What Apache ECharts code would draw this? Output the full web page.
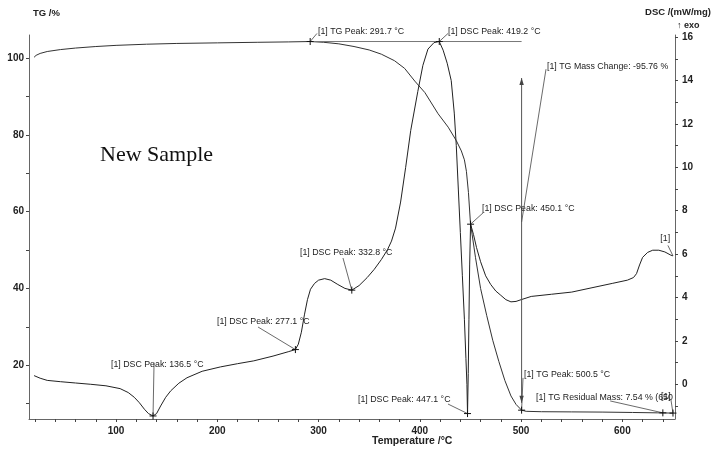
<!DOCTYPE html>
<html><head><meta charset="utf-8">
<script src="https://cdn.jsdelivr.net/npm/echarts@6/dist/echarts.min.js"></script>
<style>html,body{margin:0;padding:0;background:#fff}#c{width:712px;height:450px}</style>
</head><body><div id="c"></div>
<script>
// ---- data ----
const tgTemp = [19,21,25,32,45,60,80,100,130,160,200,240,270,291.7,305,320,335,350,362,375,385,395,405,418,428,436,441,444,446,448,450,455,460,466,472,478,484,490,495,500.5,505,520,550,580,610,635,650];
const tgMass = [100.2,100.7,101.2,101.7,102.2,102.6,103.0,103.3,103.6,103.8,103.95,104.1,104.2,104.3,104.1,103.7,103.0,102.1,101.0,99.3,97.3,94.0,91.0,85.5,82.0,78.5,75.8,73.5,70.5,65,57,48,40,33,26.5,21,16,12,9.8,8.3,8.0,7.9,7.85,7.8,7.7,7.6,7.54];
const dscTemp = [19,25,32,45,60,75,90,104,112,118,123,128,132,136.5,140,144,149,154,162,170,185,203,220,236,255,270,277.1,280,283,286,289,292,296,300,306,312,319,326,332.8,340,348,355,362,368,372,376,381,386,391,398,403,408,414,419.2,423,427,431,434,436,438,440,442,444,445.5,446.5,447.1,447.8,448.5,449.2,450.1,453,456,460,465,470,475,480,485,490,495,500,510,530,550,570,590,605,611,614,617,620,625,630,636,642,648,650];
const dscFlow = [0.40,0.28,0.18,0.12,0.06,0.0,-0.07,-0.2,-0.38,-0.6,-0.85,-1.15,-1.35,-1.46,-1.35,-1.0,-0.6,-0.3,0.05,0.3,0.6,0.8,0.95,1.08,1.3,1.5,1.6,1.85,2.4,3.2,3.9,4.38,4.65,4.8,4.87,4.8,4.6,4.42,4.34,4.55,4.92,5.3,5.75,6.2,6.6,7.2,8.4,10.0,11.7,13.5,14.7,15.45,15.75,15.8,15.4,14.8,14.0,12.5,11.0,9.0,7.0,5.0,3.0,1.2,0.0,-1.35,0.5,3.0,5.5,7.38,6.9,6.3,5.65,5.0,4.6,4.3,4.1,3.9,3.8,3.82,3.9,4.05,4.15,4.25,4.45,4.65,4.8,4.92,5.1,5.5,5.85,6.08,6.18,6.18,6.1,5.95,5.92];

const xTickValues = [20,40,60,80,100,120,140,160,180,200,220,240,260,280,300,320,340,360,380,400,420,440,460,480,500,520,540,560,580,600,620,640];
const xLabelValues = [100,200,300,400,500,600];
const tgTickValues = [10,20,30,40,50,60,70,80,90,100];
const tgLabelValues = [20,40,60,80,100];
const dscTickValues = [-1,0,1,2,3,4,5,6,7,8,9,10,11,12,13,14,15,16];
const dscLabelValues = [0,2,4,6,8,10,12,14,16];

// DSC annotations (right axis): marker, leader end, text anchor, text
const dscMarks = [[136.5,-1.46],[277.1,1.6],[332.8,4.34],[419.2,15.8],[450.1,7.38],[447.1,-1.35]];
const dscLeads = [[137.5,1.0],[240.2,2.64],[324.1,5.82],[427.8,16.17],[462.4,7.9],[427.8,-0.91]];
const dscTextAt = [[95.0,0.93],[199.7,2.87],[281.6,6.05],[427.8,16.24],[461.4,8.08],[338.9,-0.72]];
const dscTexts = ['[1] DSC Peak: 136.5 °C','[1] DSC Peak: 277.1 °C','[1] DSC Peak: 332.8 °C','[1] DSC Peak: 419.2 °C','[1] DSC Peak: 450.1 °C','[1] DSC Peak: 447.1 °C'];
const dscEndLead = [[650,5.92],[645,6.4]];
const dscEndTextAt = [637.5,6.7];
const dscEndText = '[1]';

// TG annotations (left axis)
const tgMarks = [[291.7,104.3],[500.5,8.3],[640,7.6],[650,7.54]];
const tgLeadLines = [
  [[291.7,104.3],[298.4,106.4]],
  [[500.5,8.3],[501.9,16.7]],
  [[640,7.6],[588,10.7]],
  [[650,7.54],[648,11.0]],
  [[500.5,57.3],[524.6,97.1]]
];
const tgTextAt = [[299.4,106.8],[502.9,17.5],[514.7,11.7],[638.2,11.8],[525.6,97.7]];
const tgTexts = ['[1] TG Peak: 291.7 °C','[1] TG Peak: 500.5 °C','[1] TG Residual Mass: 7.54 % (650','[1]','[1] TG Mass Change: -95.76 %'];
const tgPeakLevel = [[291.7,104.3],[500.5,104.3]];
const tgChangeArrow = [[500.5,94.8],[500.5,10.2]];

// ---- chart ----
const chart = echarts.init(document.getElementById('c'), null, {renderer:'canvas'});
const tickFont = {fontFamily:'Liberation Sans', fontWeight:'bold', fontSize:10, color:'#222'};
const axisCol = '#666';

const tgData = tgTemp.map((t,i)=>[t,tgMass[i]]);
const dscData = dscTemp.map((t,i)=>[t,dscFlow[i]]);

const staticGraphic = [
  {type:'text', left:33, top:8, style:{text:'TG /%', fontFamily:'Liberation Sans', fontWeight:'bold', fontSize:9.5, fill:'#222'}},
  {type:'text', right:1, top:7, style:{text:'DSC /(mW/mg)', fontFamily:'Liberation Sans', fontWeight:'bold', fontSize:9.5, fill:'#222'}},
  {type:'text', left:677, top:21, style:{text:'↑ exo', fontFamily:'Liberation Sans', fontWeight:'bold', fontSize:9, fill:'#222'}},
  {type:'text', left:100, top:144, style:{text:'New Sample', fontFamily:'Liberation Serif', fontSize:22, fill:'#111'}},
  {type:'text', left:372, top:436, style:{text:'Temperature /°C', fontFamily:'Liberation Sans', fontWeight:'bold', fontSize:10.5, fill:'#222'}}
];

chart.setOption({
  animation:false,
  backgroundColor:'#fff',
  grid:{left:29, right:37, top:35, bottom:31},
  xAxis:{
    type:'value', min:14, max:652,
    axisLine:{show:true, onZero:false, lineStyle:{color:axisCol, width:1}},
    axisTick:{show:true, customValues:xTickValues, length:3, inside:false, lineStyle:{color:'#444'}},
    axisLabel:{customValues:xLabelValues, margin:7, ...tickFont},
    splitLine:{show:false}
  },
  yAxis:[
    {
      type:'value', min:6, max:106, position:'left',
      axisLine:{show:true, onZero:false, lineStyle:{color:axisCol, width:1}},
      axisTick:{show:true, customValues:tgTickValues, length:3, lineStyle:{color:'#444'}},
      axisLabel:{customValues:tgLabelValues, margin:5, ...tickFont},
      splitLine:{show:false}
    },
    {
      type:'value', min:-1.6, max:16.1, position:'right',
      axisLine:{show:true, onZero:false, lineStyle:{color:axisCol, width:1}},
      axisTick:{show:true, customValues:dscTickValues, length:3, lineStyle:{color:'#444'}},
      axisLabel:{customValues:dscLabelValues, margin:7, ...tickFont},
      splitLine:{show:false}
    }
  ],
  graphic: staticGraphic,
  series:[
    {name:'TG', type:'line', yAxisIndex:0, data:tgData, showSymbol:false, clip:false,
     lineStyle:{color:'#333', width:1}, z:3},
    {name:'DSC', type:'line', yAxisIndex:1, data:dscData, showSymbol:false, clip:false,
     lineStyle:{color:'#222', width:1}, z:4}
  ]
});

// ---- annotations placed through the chart's own axes ----
function toPx(yIdx, c){ return chart.convertToPixel({xAxisIndex:0, yAxisIndex:yIdx}, c); }
const ann = [];
function line(yIdx, a, b, stroke, w){
  const p = toPx(yIdx, a), q = toPx(yIdx, b);
  ann.push({type:'line', silent:true, z:10, shape:{x1:p[0],y1:p[1],x2:q[0],y2:q[1]}, style:{stroke:stroke||'#444', lineWidth:w||0.8}});
  return [p,q];
}
function plus(yIdx, c){
  const p = toPx(yIdx, c), r = 3.5;
  ann.push({type:'line', silent:true, z:11, shape:{x1:p[0]-r,y1:p[1],x2:p[0]+r,y2:p[1]}, style:{stroke:'#111', lineWidth:1}});
  ann.push({type:'line', silent:true, z:11, shape:{x1:p[0],y1:p[1]-r,x2:p[0],y2:p[1]+r}, style:{stroke:'#111', lineWidth:1}});
}
function label(yIdx, c, txt){
  const p = toPx(yIdx, c);
  ann.push({type:'text', silent:true, z:12, x:p[0], y:p[1], style:{text:txt, fontFamily:'Liberation Sans', fontSize:8.8, fill:'#222', align:'left', verticalAlign:'middle'}});
}
function arrowHead(p, dir){
  const w = 2.2, h = 7;
  ann.push({type:'polygon', silent:true, z:11, shape:{points:[[p[0],p[1]],[p[0]-w,p[1]+dir*h],[p[0]+w,p[1]+dir*h]]}, style:{fill:'#444'}});
}

dscMarks.forEach((m,i)=>{ line(1, m, dscLeads[i]); plus(1, m); label(1, dscTextAt[i], dscTexts[i]); });
line(1, dscEndLead[0], dscEndLead[1]);
label(1, dscEndTextAt, dscEndText);

tgLeadLines.forEach(l=>line(0, l[0], l[1]));
tgMarks.forEach(m=>plus(0, m));
tgTexts.forEach((t,i)=>label(0, tgTextAt[i], t));
line(0, tgPeakLevel[0], tgPeakLevel[1], '#777', 1);
const arr = line(0, tgChangeArrow[0], tgChangeArrow[1], '#555', 1);
arrowHead(arr[0], 1);
arrowHead(arr[1], -1);

chart.setOption({graphic: staticGraphic.concat(ann)});
</script>
</body></html>
